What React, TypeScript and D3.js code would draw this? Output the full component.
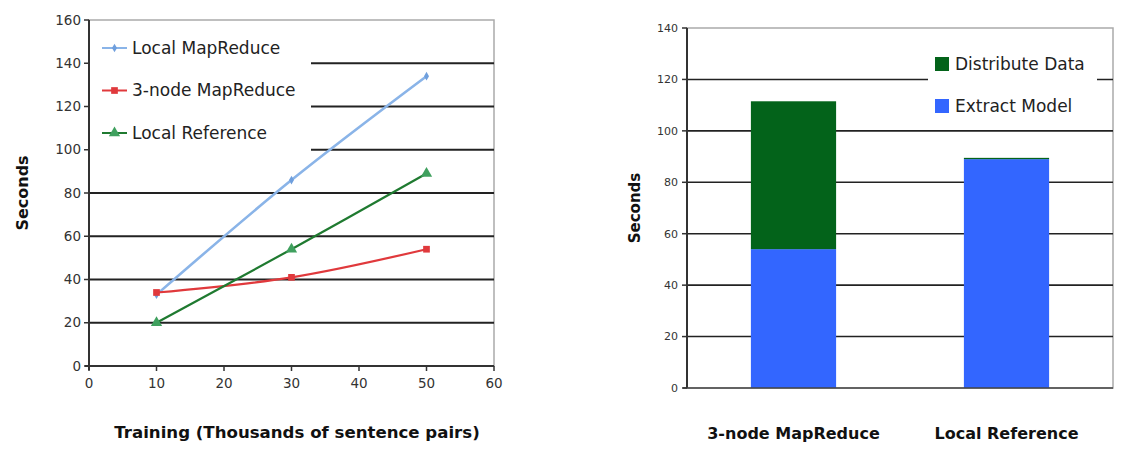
import * as d3 from "d3";

// line chart data
const trainingSizes = [10, 30, 50];
const localMapReduce = [33, 86, 134];
const threeNodeMapReduce = [34, 41, 54];
const localReference = [20, 54, 89];

// stacked bar data
const barCategories = ["3-node MapReduce", "Local Reference"];
const extractModel = [54, 89];
const distributeData = [57.5, 0.5];

const xTicksLeft = [0, 10, 20, 30, 40, 50, 60];
const yTicksLeft = [0, 20, 40, 60, 80, 100, 120, 140, 160];
const yTicksRight = [0, 20, 40, 60, 80, 100, 120, 140];

const FONT = "'DejaVu Sans', Verdana, sans-serif";

function LineChart() {
  const left = 89;
  const right = 494;
  const top = 20;
  const bottom = 366;

  const x = d3.scaleLinear().domain([0, 60]).range([left, right]);
  const y = d3.scaleLinear().domain([0, 160]).range([bottom, top]);

  const series = [
    { name: "Local MapReduce", values: localMapReduce, color: "#8ab4e8", marker: "#6f9fdd", shape: "diamond" },
    { name: "3-node MapReduce", values: threeNodeMapReduce, color: "#e0393c", marker: "#e0393c", shape: "square" },
    { name: "Local Reference", values: localReference, color: "#1f7a30", marker: "#3fa05e", shape: "triangle" },
  ];

  const line = d3
    .line<number>()
    .x((_, i) => x(trainingSizes[i]))
    .y((d) => y(d))
    .curve(d3.curveCatmullRom.alpha(0.5));

  const symbolFor = (shape: string) => {
    if (shape === "square") return d3.symbol(d3.symbolSquare, 45)();
    if (shape === "triangle") return d3.symbol(d3.symbolTriangle, 55)();
    return d3.symbol(d3.symbolDiamond, 22)();
  };

  return (
    <g>
      {/* plot border */}
      <rect x={left} y={top} width={right - left} height={bottom - top} fill="none" stroke="#aaa" strokeWidth={1.5} />
      {/* gridlines */}
      {yTicksLeft.slice(1, -1).map((t) => (
        <line key={t} x1={left} x2={right} y1={y(t)} y2={y(t)} stroke="#222" strokeWidth={1.8} />
      ))}
      {/* legend box hides grid */}
      <rect x={left + 1} y={top + 1} width={221} height={135} fill="#fff" />
      {/* axes */}
      <line x1={left} x2={left} y1={top} y2={bottom + 4} stroke="#333" strokeWidth={2} />
      <line x1={left - 4} x2={right} y1={bottom} y2={bottom} stroke="#333" strokeWidth={2} />
      {yTicksLeft.map((t) => (
        <g key={t}>
          <line x1={left - 5} x2={left} y1={y(t)} y2={y(t)} stroke="#333" strokeWidth={1.5} />
          <text x={left - 8} y={y(t)} dy="0.35em" textAnchor="end" fontSize={13.5} fill="#333" fontFamily={FONT}>
            {t}
          </text>
        </g>
      ))}
      {xTicksLeft.map((t) => (
        <g key={t}>
          <line x1={x(t)} x2={x(t)} y1={bottom} y2={bottom + 5} stroke="#333" strokeWidth={1.5} />
          <text x={x(t)} y={bottom + 22} textAnchor="middle" fontSize={13.5} fill="#333" fontFamily={FONT}>
            {t}
          </text>
        </g>
      ))}
      {/* series */}
      {series.map((s) => (
        <g key={s.name}>
          <path d={line(s.values) || ""} fill="none" stroke={s.color} strokeWidth={s.shape === "diamond" ? 2.6 : 2.2} />
          {s.values.map((v, i) => (
            <path
              key={i}
              d={symbolFor(s.shape) || ""}
              transform={`translate(${x(trainingSizes[i])},${y(v)})`}
              fill={s.marker}
            />
          ))}
        </g>
      ))}
      {/* legend */}
      {series.map((s, i) => {
        const cy = 48 + i * 42.5;
        return (
          <g key={s.name}>
            <line x1={102} x2={127} y1={cy} y2={cy} stroke={s.color} strokeWidth={2} />
            <path d={symbolFor(s.shape) || ""} transform={`translate(114.5,${cy})`} fill={s.marker} />
            <text x={132} y={cy} dy="0.35em" fontSize={17} fill="#222" fontFamily={FONT}>
              {s.name}
            </text>
          </g>
        );
      })}
      <text
        transform={`translate(22,${(top + bottom) / 2}) rotate(-90)`}
        textAnchor="middle"
        dy="0.35em"
        fontSize={16}
        fontWeight="bold"
        fill="#111"
        fontFamily={FONT}
      >
        Seconds
      </text>
      <text x={297} y={438} textAnchor="middle" fontSize={16.6} fontWeight="bold" fill="#111" fontFamily={FONT}>
        Training (Thousands of sentence pairs)
      </text>
    </g>
  );
}

function BarChart() {
  const left = 687;
  const right = 1113;
  const top = 28;
  const bottom = 388;

  const x = d3.scaleBand<string>().domain(barCategories).range([left, right]).paddingInner(0.6).paddingOuter(0.3);
  const y = d3.scaleLinear().domain([0, 140]).range([bottom, top]);

  const rows = barCategories.map((c, i) => ({
    category: c,
    extract: extractModel[i],
    distribute: distributeData[i],
  }));
  const keys = ["extract", "distribute"];
  const colors: Record<string, string> = { extract: "#3366ff", distribute: "#03631a" };
  const stacked = d3.stack<any>().keys(keys)(rows);

  return (
    <g>
      <rect x={left} y={top} width={right - left} height={bottom - top} fill="none" stroke="#aaa" strokeWidth={1.5} />
      {yTicksRight.slice(1, -1).map((t) => (
        <line key={t} x1={left} x2={right} y1={y(t)} y2={y(t)} stroke="#222" strokeWidth={1.6} />
      ))}
      {/* legend box hides grid */}
      <rect x={928} y={42} width={169} height={80} fill="#fff" />
      {stacked.map((layer) => (
        <g key={layer.key} fill={colors[layer.key]}>
          {layer.map((d, i) => (
            <rect
              key={i}
              x={x(d.data.category)}
              y={y(d[1])}
              width={x.bandwidth()}
              height={y(d[0]) - y(d[1])}
            />
          ))}
        </g>
      ))}
      <line x1={left} x2={left} y1={top} y2={bottom} stroke="#333" strokeWidth={2} />
      <line x1={left - 4} x2={right} y1={bottom} y2={bottom} stroke="#444" strokeWidth={1.5} />
      {yTicksRight.map((t) => (
        <g key={t}>
          <line x1={left - 5} x2={left} y1={y(t)} y2={y(t)} stroke="#333" strokeWidth={1.5} />
          <text x={left - 9} y={y(t)} dy="0.35em" textAnchor="end" fontSize={11} fill="#333" fontFamily={FONT}>
            {t}
          </text>
        </g>
      ))}
      {barCategories.map((c) => (
        <text
          key={c}
          x={(x(c) || 0) + x.bandwidth() / 2}
          y={439}
          textAnchor="middle"
          fontSize={16}
          fontWeight="bold"
          fill="#111"
          fontFamily={FONT}
        >
          {c}
        </text>
      ))}
      {/* legend */}
      {[
        { key: "distribute", label: "Distribute Data" },
        { key: "extract", label: "Extract Model" },
      ].map((item, i) => {
        const cy = 64 + i * 42;
        return (
          <g key={item.key}>
            <rect x={935} y={cy - 7} width={14} height={14} fill={colors[item.key]} />
            <text x={955} y={cy} dy="0.35em" fontSize={17} fill="#222" fontFamily={FONT}>
              {item.label}
            </text>
          </g>
        );
      })}
      <text
        transform={`translate(635,${(top + bottom) / 2}) rotate(-90)`}
        textAnchor="middle"
        dy="0.35em"
        fontSize={15}
        fontWeight="bold"
        fill="#111"
        fontFamily={FONT}
      >
        Seconds
      </text>
    </g>
  );
}

export default function App() {
  return (
    <svg
      width={1123}
      height={449}
      style={{ position: "absolute", left: 0, top: 0, background: "#fff" }}
    >
      <LineChart />
      <BarChart />
    </svg>
  );
}
